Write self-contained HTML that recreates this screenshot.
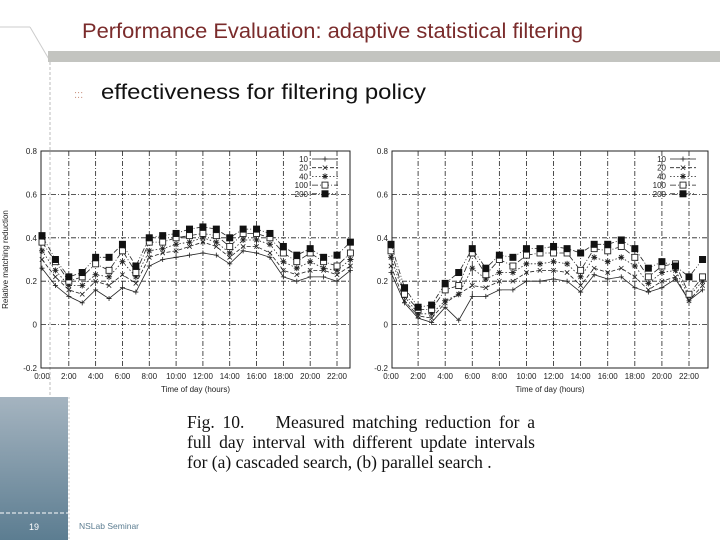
<!DOCTYPE html>
<html><head><meta charset="utf-8"><style>
body{margin:0;width:720px;height:540px;overflow:hidden;background:#fff;font-family:"Liberation Sans",sans-serif}
svg{position:absolute;left:0;top:0}
.cap{position:absolute;left:187px;top:412px;width:348px;font-family:"Liberation Serif",serif;font-size:17.5px;line-height:20px;text-align:justify;text-align-last:justify;color:#111}
.cap div{text-align:justify;text-align-last:justify}
</style></head><body>
<svg id="s" width="720" height="540">
<defs><linearGradient id="g" x1="0" y1="0" x2="0" y2="1"><stop offset="0" stop-color="#a5b4c0"/><stop offset="1" stop-color="#5c7d91"/></linearGradient></defs>
<line x1="0" y1="27" x2="30" y2="27" stroke="#ccc"/>
<line x1="30" y1="27" x2="50" y2="61" stroke="#ccc"/>
<rect x="48" y="51" width="672" height="11" fill="#c3c4c0"/>
<line x1="50" y1="62" x2="50" y2="540" stroke="#bbb" stroke-dasharray="3,2"/>
<rect x="0" y="397" width="68" height="143" fill="url(#g)"/>
<line x1="0" y1="513" x2="68" y2="513" stroke="#fff" stroke-dasharray="4,2"/>
<line x1="69" y1="397" x2="69" y2="540" stroke="#ccc" stroke-dasharray="2,2"/>
<text x="82" y="38" font-size="21" fill="#7a2b2b" textLength="501" lengthAdjust="spacingAndGlyphs">Performance Evaluation: adaptive statistical filtering</text>
<text x="74" y="98" font-size="11" fill="#c98">:::</text>
<text x="101" y="99" font-size="21.5" fill="#111" textLength="325" lengthAdjust="spacingAndGlyphs">effectiveness for filtering policy</text>
<text x="34" y="530" font-size="9" fill="#fff" text-anchor="middle">19</text>
<text x="79" y="529" font-size="8.5" fill="#5c7d91">NSLab Seminar</text>
</svg>
<div class="cap"><div>Fig. 10.&nbsp;&nbsp;&nbsp; Measured matching reduction for a</div><div>full day interval with different update intervals</div><div style="text-align-last:left">for (a) cascaded search, (b) parallel search .</div></div>
<script>
const seriesNames=["10","20","40","100","200"];
const yTicks=[-0.2,0,0.2,0.4,0.6,0.8];
const xTickLabels=["0:00","2:00","4:00","6:00","8:00","10:00","12:00","14:00","16:00","18:00","20:00","22:00"];
const leftS10=[0.26,0.18,0.13,0.10,0.16,0.12,0.17,0.15,0.27,0.30,0.31,0.32,0.33,0.32,0.28,0.34,0.33,0.31,0.22,0.20,0.22,0.22,0.20,0.25];
const leftS20=[0.30,0.22,0.16,0.14,0.20,0.18,0.23,0.19,0.31,0.33,0.34,0.36,0.38,0.36,0.31,0.36,0.36,0.33,0.25,0.23,0.25,0.25,0.23,0.27];
const leftS40=[0.34,0.25,0.18,0.18,0.23,0.22,0.29,0.22,0.34,0.35,0.37,0.38,0.40,0.38,0.33,0.39,0.39,0.37,0.29,0.26,0.29,0.26,0.25,0.30];
const leftS100=[0.38,0.29,0.20,0.22,0.28,0.25,0.34,0.24,0.38,0.38,0.40,0.41,0.42,0.41,0.36,0.42,0.42,0.40,0.33,0.29,0.33,0.29,0.27,0.33];
const leftS200=[0.41,0.30,0.22,0.24,0.31,0.31,0.37,0.27,0.40,0.41,0.42,0.44,0.45,0.44,0.40,0.44,0.44,0.42,0.36,0.32,0.35,0.31,0.32,0.38];
const rightS10=[0.24,0.10,0.03,0.01,0.08,0.02,0.13,0.13,0.16,0.16,0.20,0.20,0.21,0.20,0.15,0.23,0.21,0.22,0.17,0.15,0.17,0.21,0.11,0.16];
const rightS20=[0.27,0.11,0.04,0.03,0.10,0.14,0.18,0.17,0.20,0.20,0.24,0.25,0.25,0.24,0.18,0.26,0.24,0.26,0.22,0.16,0.20,0.22,0.11,0.18];
const rightS40=[0.31,0.13,0.05,0.05,0.11,0.14,0.26,0.21,0.24,0.24,0.28,0.28,0.29,0.28,0.22,0.31,0.29,0.31,0.27,0.19,0.24,0.25,0.13,0.20];
const rightS100=[0.34,0.14,0.07,0.07,0.16,0.18,0.33,0.23,0.30,0.27,0.32,0.33,0.33,0.33,0.25,0.35,0.34,0.36,0.31,0.22,0.27,0.28,0.14,0.22];
const rightS200=[0.37,0.17,0.08,0.09,0.19,0.24,0.35,0.26,0.32,0.31,0.35,0.35,0.36,0.35,0.33,0.37,0.37,0.39,0.35,0.26,0.29,0.27,0.22,0.30];

const NS="http://www.w3.org/2000/svg";
const svg=document.getElementById('s');
function mk(t,a,p){const e=document.createElementNS(NS,t);for(const k in a)e.setAttribute(k,a[k]);(p||svg).appendChild(e);return e;}
const dashes=["none","4,2","1.5,2","6,2,1,2","5,2,1,2,1,2"];
function drawMarker(g,k,x,y){
  if(k===0){mk('path',{d:`M${x-2.5},${y}h5M${x},${y-2.5}v5`,stroke:'#222','stroke-width':0.8},g);}
  else if(k===1){mk('path',{d:`M${x-2.2},${y-2.2}l4.4,4.4M${x-2.2},${y+2.2}l4.4,-4.4`,stroke:'#222','stroke-width':0.8},g);}
  else if(k===2){mk('path',{d:`M${x-2.2},${y-2.2}l4.4,4.4M${x-2.2},${y+2.2}l4.4,-4.4M${x-3},${y}h6M${x},${y-3}v6`,stroke:'#222','stroke-width':0.9},g);}
  else if(k===3){mk('rect',{x:x-3,y:y-3,width:6,height:6,fill:'#fff',stroke:'#222','stroke-width':0.9},g);}
  else {mk('rect',{x:x-3.5,y:y-3.5,width:7,height:7,fill:'#111'},g);}
}
function chart(name,L,R,T,B,x0,x22,series,ylabel){
  const g=mk('g',{});
  
  
  const xs=h=>x0+(x22-x0)*h/22;
  const ys=v=>B+(T-B)*(v+0.2)/1.0;
  mk('rect',{x:L,y:T,width:R-L,height:B-T,fill:'none',stroke:'#222','stroke-width':1},g);
  yTicks.forEach(v=>{
    if(v>-0.2&&v<0.8){const l=mk('line',{x1:L,x2:R,y1:ys(v),y2:ys(v),stroke:'#222','stroke-dasharray':'5,2,1,2','stroke-width':0.8},g);}
    const t=mk('text',{x:L-4,y:ys(v)+3,'font-size':8,'text-anchor':'end',fill:'#222'},g);t.textContent=v===0?"0":v.toFixed(1);
    
  });
  xTickLabels.forEach((s,i)=>{
    const x=xs(i*2);
    if(i>0){const l=mk('line',{x1:x,x2:x,y1:T,y2:B,stroke:'#222','stroke-dasharray':'5,2,1,2','stroke-width':0.8},g);}
    const t=mk('text',{x:x,y:B+11,'font-size':8,'text-anchor':'middle',fill:'#222'},g);t.textContent=s;
    
  });
  const xt=mk('text',{x:(L+R)/2,y:B+24,'font-size':8,'text-anchor':'middle',fill:'#222'},g);xt.textContent="Time of day (hours)";
  
  if(ylabel){const yt=mk('text',{x:0,y:0,'font-size':8,'text-anchor':'middle',fill:'#222',transform:`translate(8,${(T+B)/2}) rotate(-90)`},g);yt.textContent="Relative matching reduction";
  }
  series.forEach((arr,k)=>{
    const pts=arr.map((v,i)=>xs(i).toFixed(1)+','+ys(v).toFixed(1)).join(' ');
    const pl=mk('polyline',{points:pts,fill:'none',stroke:'#222','stroke-width':0.8,'stroke-dasharray':dashes[k]},g);
    
    arr.forEach((v,i)=>drawMarker(g,k,xs(i),ys(v)));
    const ly=T+8+k*8.7;
    const lt=mk('text',{x:R-42,y:ly+3,'font-size':8,'text-anchor':'end',fill:'#222'},g);lt.textContent=seriesNames[k];
    
    mk('line',{x1:R-38,x2:R-12,y1:ly,y2:ly,stroke:'#222','stroke-width':0.8,'stroke-dasharray':dashes[k]},g);
    drawMarker(g,k,R-25,ly);
  });
}
chart('chart-cascaded',41,350,151,368,42,337,[leftS10,leftS20,leftS40,leftS100,leftS200],true);
chart('chart-parallel',392,708,151,368,391,689,[rightS10,rightS20,rightS40,rightS100,rightS200],false);
</script>
</body></html>
